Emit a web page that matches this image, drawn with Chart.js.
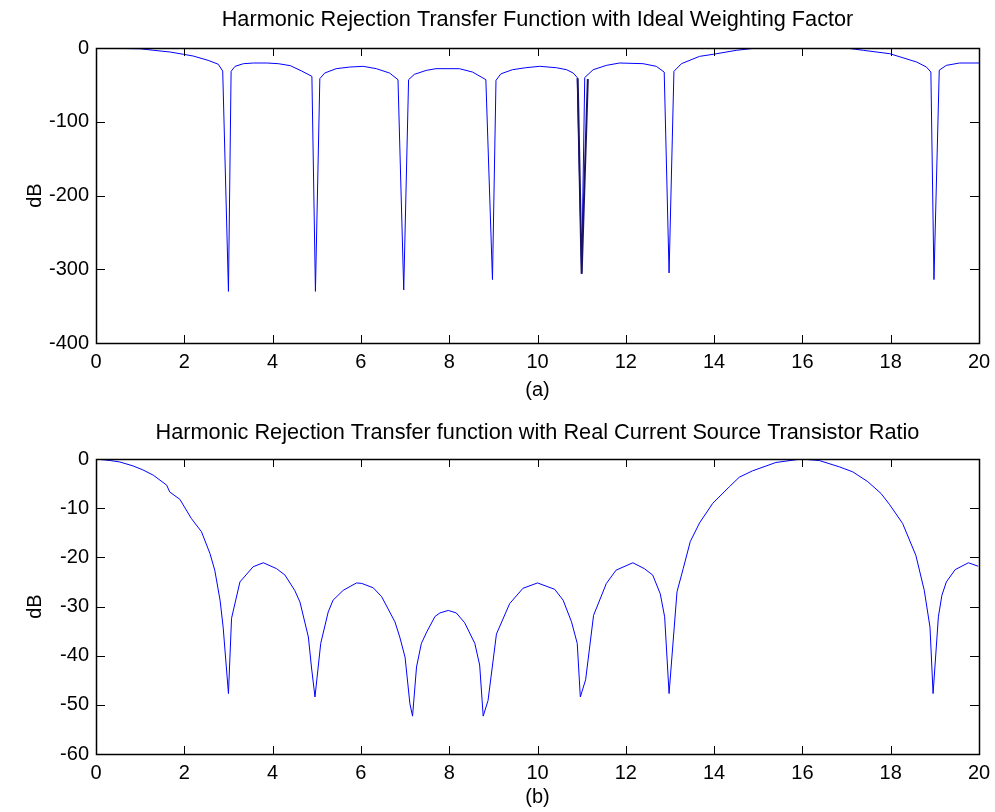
<!DOCTYPE html>
<html>
<head>
<meta charset="utf-8">
<script src="https://cdn.jsdelivr.net/npm/chart.js@4.4.1/dist/chart.umd.min.js"></script>
<style>
  body { margin: 0; background: #fff; }
  .box { position: absolute; left: 0; width: 995px; height: 406px; }
</style>
</head>
<body>
<div class="box" style="top:0"><canvas id="idealChart" width="995" height="406"></canvas></div>
<div class="box" style="top:406px"><canvas id="realChart" width="995" height="406"></canvas></div>
<script>
// (a) ideal weighting factor
var idealX = [0, 1.0, 1.3, 1.68, 1.98, 2.2, 2.54, 2.77, 2.87, 3.0, 3.06, 3.15, 3.34, 3.57, 3.87, 4.13, 4.4, 4.66, 4.89, 4.97,
  5.07, 5.18, 5.44, 5.74, 6.05, 6.35, 6.65, 6.84, 6.97, 7.08, 7.21, 7.48, 7.7, 8.23, 8.53, 8.83, 8.98, 9.06, 9.17, 9.43,
  9.73, 10.05, 10.43, 10.66, 10.81, 10.9, 11.0, 11.07, 11.26, 11.56, 11.86, 12.39, 12.69, 12.87, 12.98, 13.09, 13.26,
  13.67, 13.98, 14.5, 14.96, 17.0, 17.38, 17.98, 18.59, 18.81, 18.91, 18.98, 19.1, 19.26, 19.56, 20];
var idealDB = [0, -1, -3, -5.4, -8.5, -10.8, -16.7, -22, -31.2, -330, -31.6, -24.8, -21.2, -20.3, -20.3, -21.2, -23.9, -31.2, -38.4, -330,
  -41.5, -33.9, -28, -25.8, -24.8, -28, -33.9, -42.9, -328, -42.9, -35.7, -30.3, -28, -28, -32.6, -42.9, -314, -43.8, -35, -29.4,
  -26.7, -24.8, -26.7, -29.4, -33.9, -40, -306, -40, -29.4, -23.5, -20.3, -21.2, -24.8, -32.6, -305, -31.6, -21.2,
  -11.3, -8.5, -3.1, 0, 0, -3.1, -7.7, -19, -25.8, -32.6, -314, -30, -23.5, -20.3, -20.3];
// dark overlay at the 11th harmonic
var overlayX = [10.91, 11.0, 11.14];
var overlayDB = [-41, -306, -42];

// (b) real current source transistor ratio
var realX = [0, 0.32, 0.54, 0.84, 1.06, 1.3, 1.6, 1.67, 1.9, 2.16, 2.39, 2.58, 2.69, 2.81, 2.88, 3.0, 3.07, 3.26, 3.56, 3.79,
  4.09, 4.28, 4.5, 4.62, 4.81, 4.88, 4.96, 5.09, 5.26, 5.37, 5.6, 5.9, 6.02, 6.28, 6.47, 6.77, 6.88, 7.0, 7.11, 7.17,
  7.26, 7.37, 7.49, 7.68, 7.79, 7.98, 8.16, 8.35, 8.58, 8.69, 8.77, 8.88, 9.07, 9.37, 9.67, 10.0, 10.39, 10.58, 10.77,
  10.9, 10.97, 11.09, 11.27, 11.56, 11.78, 12.16, 12.42, 12.61, 12.78, 12.88, 12.98, 13.08, 13.16, 13.3, 13.46, 13.67,
  13.97, 14.35, 14.57, 14.87, 15.4, 15.97, 16.38, 16.84, 17.14, 17.48, 17.78, 17.97, 18.27, 18.57, 18.76, 18.89, 18.96,
  19.08, 19.16, 19.26, 19.46, 19.76, 19.98];
var realDB = [0, -0.3, -0.6, -1.4, -2.2, -3.3, -5.3, -6.7, -8.2, -12.1, -14.8, -19.2, -22.6, -28.7, -34.2, -47.7, -32.4, -25, -21.9, -21.1,
  -22.3, -23.6, -26.7, -29.1, -36.2, -42.3, -48.4, -37.5, -31.1, -28.7, -26.7, -25.2, -25.3, -26.2, -28, -33.1, -36.2, -40.3, -49.8, -52.3,
  -42.3, -37.5, -35.2, -32, -31.3, -30.8, -31.3, -33.3, -37.5, -41.9, -52.3, -49.1, -35.6, -29.4, -26.3, -25.2, -26.5, -28.7, -33.1,
  -37.5, -48.4, -44.9, -31.8, -25.3, -22.6, -21.1, -22.3, -23.6, -27.4, -32.1, -47.7, -36.2, -27, -22.3, -16.8, -13,
  -9, -5.6, -3.7, -2.4, -0.7, 0, -0.3, -1.6, -2.6, -4.6, -7, -9.2, -13.1, -19.6, -26.7, -34.2, -47.7,
  -32.1, -27.7, -25, -22.5, -21.1, -21.8];

var xTicks = [0, 2, 4, 6, 8, 10, 12, 14, 16, 18, 20];

var FONT = 'Liberation Sans, Arial, Helvetica, sans-serif';

function pts(xs, ys) {
  return xs.map(function (x, i) { return { x: x, y: ys[i] }; });
}

// matlab style box with ticks pointing inward
var boxPlugin = {
  id: 'matlabBox',
  afterDraw: function (chart) {
    var ctx = chart.ctx, a = chart.chartArea;
    var xs = chart.scales.x, ys = chart.scales.y;
    ctx.save();
    ctx.strokeStyle = '#000';
    ctx.lineWidth = 1;
    ctx.beginPath();
    xs.ticks.forEach(function (t) {
      var px = Math.round(xs.getPixelForValue(t.value)) + 0.5;
      ctx.moveTo(px, a.bottom); ctx.lineTo(px, a.bottom - 8);
      ctx.moveTo(px, a.top); ctx.lineTo(px, a.top + 8);
    });
    ys.ticks.forEach(function (t) {
      var py = Math.round(ys.getPixelForValue(t.value)) + 0.5;
      ctx.moveTo(a.left, py); ctx.lineTo(a.left + 9, py);
      ctx.moveTo(a.right, py); ctx.lineTo(a.right - 9, py);
    });
    ctx.stroke();
    ctx.lineWidth = 1.5;
    ctx.strokeRect(Math.round(a.left) + 0.5, Math.round(a.top) + 0.5, Math.round(a.right - a.left), Math.round(a.bottom - a.top));
    ctx.restore();
  }
};

function makeChart(id, datasets, opts) {
  var ctx = document.getElementById(id).getContext('2d');
  return new Chart(ctx, {
    type: 'line',
    data: { datasets: datasets },
    plugins: [boxPlugin],
    options: {
      responsive: false,
      animation: false,
      layout: { padding: { left: 0, right: 16, top: 0, bottom: 0 } },
      elements: { point: { radius: 0 }, line: { tension: 0 } },
      plugins: {
        legend: { display: false },
        tooltip: { enabled: false },
        title: {
          display: true,
          fullSize: false,
          text: opts.title,
          color: '#000',
          font: { family: FONT, size: 21.7, weight: 'normal' },
          padding: opts.titlePad
        }
      },
      scales: {
        x: {
          type: 'linear',
          min: 0, max: 20,
          afterBuildTicks: function (s) { s.ticks = xTicks.map(function (v) { return { value: v }; }); },
          afterFit: function (s) { s.height = opts.xHeight; s.paddingLeft = 0; s.paddingRight = 0; },
          grid: { display: false, drawTicks: false },
          border: { display: false },
          ticks: { color: '#000', padding: 7, font: { family: FONT, size: 20 }, maxRotation: 0 },
          title: {
            display: true, text: opts.xLabel, color: '#000',
            font: { family: FONT, size: 20 },
            padding: { top: 0, bottom: opts.xLabelPad }
          }
        },
        y: {
          min: opts.yMin, max: 0,
          afterBuildTicks: function (s) { s.ticks = opts.yTicks.map(function (v) { return { value: v }; }); },
          afterFit: function (s) { s.width = 96; },
          grid: { display: false, drawTicks: false },
          border: { display: false },
          ticks: { color: '#000', padding: 7, font: { family: FONT, size: 20 } },
          title: {
            display: true, text: 'dB', color: '#000',
            font: { family: FONT, size: 20 },
            padding: { top: 23, bottom: 0 }
          }
        }
      }
    }
  });
}

document.addEventListener('DOMContentLoaded', function () {
  makeChart('idealChart', [
    { data: pts(overlayX, overlayDB), borderColor: '#1b1464', borderWidth: 2, order: 0 },
    { data: pts(idealX, idealDB), borderColor: '#0000ff', borderWidth: 1, order: 1 }
  ], {
    title: 'Harmonic Rejection Transfer Function with Ideal Weighting Factor',
    titlePad: { top: 7, bottom: 15 },
    xLabel: '(a)', xLabelPad: 4, xHeight: 63,
    yMin: -400, yTicks: [-400, -300, -200, -100, 0]
  });

  makeChart('realChart', [
    { data: pts(realX, realDB), borderColor: '#0000ff', borderWidth: 1 }
  ], {
    title: 'Harmonic Rejection Transfer function with Real Current Source Transistor Ratio',
    titlePad: { top: 14, bottom: 13 },
    xLabel: '(b)', xLabelPad: 3, xHeight: 58,
    yMin: -60, yTicks: [-60, -50, -40, -30, -20, -10, 0]
  });
});
</script>
</body>
</html>
